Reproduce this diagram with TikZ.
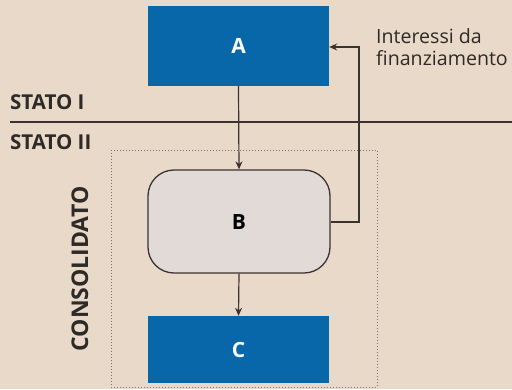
\documentclass[tikz,border=0pt]{standalone}
\usepackage{fontspec}
\setmainfont{Open Sans}
\usetikzlibrary{arrows.meta}
\definecolor{bg}{HTML}{E9D9C8}
\definecolor{blu}{HTML}{0767A8}
\definecolor{bfill}{HTML}{E1DAD6}
\definecolor{ln}{HTML}{3A3431}
\tikzset{
  bluebox/.style={fill=blu, minimum width=181pt, minimum height=80pt, inner sep=0pt, text=white, font=\fontsize{21}{21}\selectfont\bfseries},
  roundbox/.style={draw=ln, line width=1.3pt, fill=bfill, rounded corners=26pt, minimum width=182pt, minimum height=103pt, inner sep=0pt, font=\fontsize{21}{21}\selectfont\bfseries},
  conn/.style={draw=ln, line width=1.2pt, -{Stealth[length=8pt,width=7pt]}},
  lbl/.style={font=\fontsize{20.5}{20}\selectfont\bfseries, anchor=base west, inner sep=0pt, text=ln!80!black},
}
\begin{document}
\begin{tikzpicture}[x=1pt,y=-1pt]
\fill[bg] (0,0) rectangle (512,389);
\useasboundingbox (0,0) rectangle (512,389);
\draw[ln!70, line width=1pt, dotted] (111,150) rectangle (377,387);
\node[bluebox] (A) at (238.5,46) {A};
\node[roundbox] (B) at (239,221.5) {B};
\node[bluebox, minimum height=67pt] (C) at (238.5,349.5) {C};
\draw[ln, line width=1.2pt] (10,122) -- (512,122);
\node[lbl] (s1) at (10,109) {STATO I};
\node[lbl] (s2) at (10,149) {STATO II};
\node[font=\fontsize{23}{23}\selectfont\bfseries, rotate=90, text=ln!80!black, inner sep=0pt] (cons) at (80,269) {CONSOLIDATO};
\node[font=\fontsize{19.6}{22}\selectfont, align=left, anchor=north west, inner sep=0pt, text=ln!80!black] (int) at (376,28) {Interessi da\\finanziamento};
\coordinate (k1) at (359,222);
\coordinate (k2) at (359,47);
\draw[conn] (A.south) -- (B.north);
\draw[conn] (B.south) -- (C.north);
\draw[conn] (B.east |- k1) -- (k1) -- (k2) -- (A.east |- k2);
\end{tikzpicture}
\end{document}
